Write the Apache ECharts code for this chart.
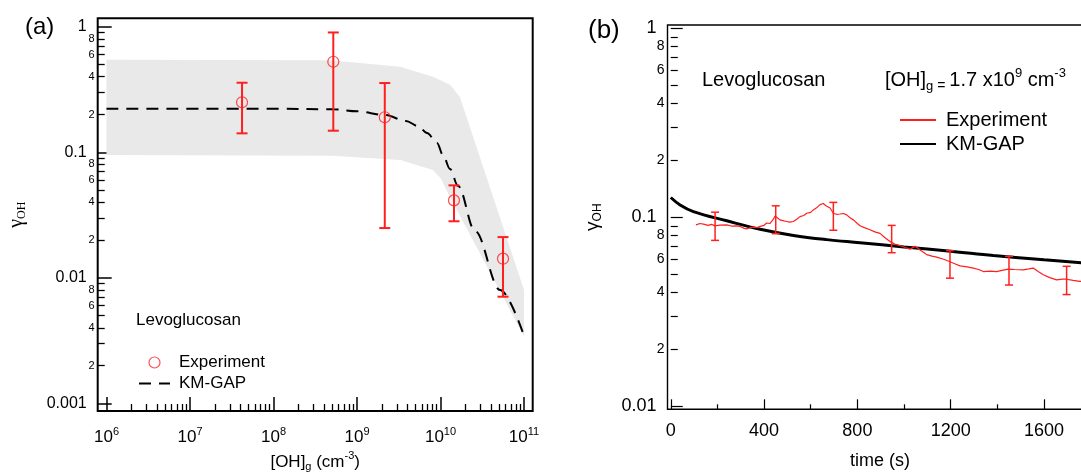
<!DOCTYPE html>
<html>
<head>
<meta charset="utf-8">
<script src="https://cdn.jsdelivr.net/npm/echarts@6/dist/echarts.min.js"></script>
<style>
	html, body { margin: 0; padding: 0; background: #fff; }
	#chart { width: 1081px; height: 473px; }
</style>
</head>
<body>
<div id="chart"></div>
<script>
const FONT = "'Liberation Sans', Arial, sans-serif";
const SERIF = "'Liberation Serif', 'DejaVu Serif', serif";
const RED = "#ff1f1f";
const BAND = "#e9e9e9";
const CLEAR = "rgba(0,0,0,0)";

// ---- panel (a): gamma vs [OH]g ----
const ohDecades = [1e6, 1e7, 1e8, 1e9, 1e10, 1e11];
const gammaDecadesA = [0.001, 0.01, 0.1, 1];
const gammaLabelsA = ["0.001", "0.01", "0.1", "1"];

const expOH = [4.2e7, 5.2e8, 2.15e9, 1.45e10, 5.6e10];
const expGamma = [0.25, 0.526, 0.19, 0.0414, 0.0142];
const expLow = [0.1415, 0.1485, 0.0249, 0.0282, 0.00707];
const expHigh = [0.358, 0.9, 0.356, 0.0545, 0.0211];

const kmOH = [1e6, 1e8, 5.16e8, 1e9, 2.16e9, 3.86e9, 5.38e9, 6.89e9, 9.08e9, 1.07e10, 1.3e10, 1.62e10, 2.59e10, 5.16e10, 1e11];
const kmGamma = [0.222, 0.222, 0.220, 0.212, 0.198, 0.1774, 0.1618, 0.1423, 0.1185, 0.0951, 0.0736, 0.0538, 0.0236, 0.0080, 0.00344];

const bandUpperOH = [1e6, 4.75e8, 3.3e9, 8.1e9, 1.3e10, 1.7e10, 1e11];
const bandUpperGamma = [0.545, 0.54, 0.48, 0.40, 0.345, 0.277, 0.008];
const bandLowerOH = [1e6, 5e8, 3.3e9, 8.1e9, 1e10, 1.36e10, 1e11];
const bandLowerGamma = [0.095, 0.094, 0.0867, 0.0722, 0.0625, 0.0414, 0.0034];

// ---- panel (b): gamma vs time ----
const timeMajor = [0, 400, 800, 1200, 1600];
const timeMinor = [200, 600, 1000, 1400, 1800];
const gammaDecadesB = [0.01, 0.1, 1];
const gammaLabelsB = ["0.01", "0.1", "1"];

const expTime = [108, 125, 140, 160, 175, 190, 210, 240, 260, 283, 300, 315, 326, 340, 354, 370, 383, 400, 411, 425,
	440, 447, 458, 468, 485, 497, 510, 526, 540, 554, 570, 583, 600, 611, 625, 640, 654, 665, 683, 697,
	710, 726, 740, 754, 770, 783, 800, 811, 830, 854, 875, 897, 920, 940, 960, 983, 1005, 1026, 1047, 1060,
	1069, 1085, 1097, 1120, 1140, 1170, 1197, 1220, 1240, 1270, 1297, 1320, 1340, 1370, 1397, 1420, 1447, 1475, 1511, 1535,
	1554, 1575, 1597, 1625, 1654, 1680, 1697, 1725, 1754, 1780, 1808];
const expGammaB = [0.0910, 0.0925, 0.0918, 0.0905, 0.0915, 0.0899, 0.0908, 0.0910, 0.0897, 0.0899, 0.0890, 0.0872, 0.0866, 0.0878, 0.0885, 0.0880, 0.0893, 0.0905, 0.0931, 0.0925,
	0.0975, 0.1014, 0.0990, 0.0967, 0.0955, 0.0948, 0.0940, 0.0948, 0.0975, 0.1006, 0.1020, 0.1048, 0.1060, 0.1092, 0.1120, 0.1164, 0.1180, 0.1150, 0.1117, 0.1048,
	0.1035, 0.1039, 0.1045, 0.1028, 0.0990, 0.0967, 0.0925, 0.0900, 0.0880, 0.0857, 0.0835, 0.0820, 0.0775, 0.0742, 0.0720, 0.0707, 0.0690, 0.0677, 0.0700, 0.0685,
	0.0670, 0.0650, 0.0633, 0.0622, 0.0614, 0.0598, 0.0580, 0.0565, 0.0552, 0.0545, 0.0537, 0.0528, 0.0515, 0.0518, 0.0515, 0.0522, 0.0530, 0.0528, 0.0526, 0.0532,
	0.0537, 0.0515, 0.0495, 0.0478, 0.0465, 0.0470, 0.0469, 0.0462, 0.0457, 0.0455, 0.0452];

const kmTime = [0, 40, 97, 240, 383, 526, 669, 811, 1000, 1200, 1383, 1600, 1808];
const kmGammaB = [0.127, 0.116, 0.107, 0.0956, 0.0862, 0.0800, 0.0760, 0.0732, 0.0695, 0.0660, 0.0626, 0.0594, 0.0568];

const ebTime = [190, 450, 697, 947, 1197, 1450, 1697];
const ebLow = [0.0753, 0.0817, 0.0852, 0.0648, 0.0475, 0.0437, 0.0389];
const ebHigh = [0.1062, 0.1148, 0.1197, 0.0904, 0.0665, 0.0620, 0.0549];

// 2..9 inside each decade, and the labelled 2,4,6,8
function minorTicks(decades, steps) {
	const out = [];
	decades.slice(0, -1).forEach(d => steps.forEach(m => out.push(m * d)));
	return out;
}
const allSteps = [2, 3, 4, 5, 6, 7, 8, 9];
const evenSteps = [2, 4, 6, 8];

function mantissa(v) {
	const e = Math.floor(Math.log10(v) + 1e-9);
	return String(Math.round(v / Math.pow(10, e)));
}
function decadeLabel(decades, labels) {
	return v => {
		let best = 0;
		decades.forEach((d, i) => {
			if (Math.abs(Math.log10(d) - Math.log10(v)) < Math.abs(Math.log10(decades[best]) - Math.log10(v))) best = i;
		});
		return labels[best];
	};
}

const zip = (a, b) => a.map((v, i) => [v, b[i]]);
const zip3 = (a, b, c) => a.map((v, i) => [v, b[i], c[i]]);

function errorBars(capHalf, width) {
	return (params, api) => {
		const x = api.value(0);
		const lo = api.coord([x, api.value(1)]);
		const hi = api.coord([x, api.value(2)]);
		const style = { stroke: RED, lineWidth: width };
		return {
			type: "group",
			children: [
				{ type: "line", shape: { x1: lo[0], y1: lo[1], x2: hi[0], y2: hi[1] }, style },
				{ type: "line", shape: { x1: lo[0] - capHalf, y1: lo[1], x2: lo[0] + capHalf, y2: lo[1] }, style },
				{ type: "line", shape: { x1: hi[0] - capHalf, y1: hi[1], x2: hi[0] + capHalf, y2: hi[1] }, style }
			]
		};
	};
}

const tickStyle = w => ({ color: "#000", width: w });
const black = { color: "#000", fontFamily: FONT };
const noSymbol = { color: CLEAR, borderWidth: 0, opacity: 0 };

const chart = echarts.init(document.getElementById("chart"));

const option = {
	animation: false,
	backgroundColor: "#fff",
	grid: [
		{ left: 97.7, top: 18.3, width: 435, height: 392.7, show: true, borderColor: "#000", borderWidth: 2, backgroundColor: "transparent", outerBoundsMode: "none", containLabel: false },
		{ left: 667.5, top: 25, width: 425, height: 384.3, show: true, borderColor: "#000", borderWidth: 1.4, backgroundColor: "transparent", outerBoundsMode: "none", containLabel: false }
	],
	xAxis: [
		{
			gridIndex: 0, type: "log", min: 7.85e5, max: 1.27e11, position: "bottom",
			axisLine: { show: false }, splitLine: { show: false },
			axisTick: { inside: true, length: 14, customValues: ohDecades, lineStyle: tickStyle(1.5) },
			axisLabel: {
				customValues: ohDecades, margin: 15,
				formatter: v => `{b|10}{e|${Math.round(Math.log10(v))}}`,
				rich: {
					b: { ...black, fontSize: 17, lineHeight: 20, verticalAlign: "bottom" },
					e: { ...black, fontSize: 11, lineHeight: 11, verticalAlign: "top" }
				}
			},
			name: "{m|[OH]}{s|g}{m| (cm}{e|-3}{m|)}", nameLocation: "middle", nameGap: 38,
			nameTextStyle: {
				rich: {
					m: { ...black, fontSize: 17, lineHeight: 22, verticalAlign: "middle" },
					s: { ...black, fontSize: 11, lineHeight: 11, verticalAlign: "bottom" },
					e: { ...black, fontSize: 11, lineHeight: 11, verticalAlign: "top" }
				}
			}
		},
		{
			gridIndex: 0, type: "log", min: 7.85e5, max: 1.27e11, position: "bottom",
			axisLine: { show: false }, splitLine: { show: false },
			axisTick: { inside: true, length: 7, customValues: minorTicks(ohDecades, allSteps), lineStyle: tickStyle(1.3) },
			axisLabel: { show: false }
		},
		{
			gridIndex: 1, type: "value", min: -14, max: 1808, position: "bottom",
			axisLine: { show: false }, splitLine: { show: false },
			axisTick: { inside: true, length: 10, customValues: timeMajor, lineStyle: tickStyle(1.2) },
			axisLabel: { customValues: timeMajor, margin: 13, ...black, fontSize: 18, formatter: v => String(v) },
			name: "time (s)", nameLocation: "middle", nameGap: 43,
			nameTextStyle: { ...black, fontSize: 18 }
		},
		{
			gridIndex: 1, type: "value", min: -14, max: 1808, position: "bottom",
			axisLine: { show: false }, splitLine: { show: false },
			axisTick: { inside: true, length: 5, customValues: timeMinor, lineStyle: tickStyle(1.2) },
			axisLabel: { show: false }
		}
	],
	yAxis: [
		{
			gridIndex: 0, type: "log", min: 8.69e-4, max: 1.167, position: "left",
			axisLine: { show: false }, splitLine: { show: false },
			axisTick: { inside: true, length: 14, customValues: gammaDecadesA, lineStyle: tickStyle(1.5) },
			axisLabel: { customValues: gammaDecadesA, margin: 11, ...black, fontSize: 16, formatter: decadeLabel(gammaDecadesA, gammaLabelsA) },
			name: "{g|γ}{s|OH}", nameLocation: "middle", nameGap: 70, nameRotate: 90,
			nameTextStyle: {
				rich: {
					g: { color: "#000", fontFamily: SERIF, fontSize: 20, lineHeight: 22, verticalAlign: "middle" },
					s: { color: "#000", fontFamily: SERIF, fontSize: 12, lineHeight: 12, verticalAlign: "bottom" }
				}
			}
		},
		{
			gridIndex: 0, type: "log", min: 8.69e-4, max: 1.167, position: "left",
			axisLine: { show: false }, splitLine: { show: false },
			axisTick: { inside: true, length: 7, customValues: minorTicks(gammaDecadesA, allSteps), lineStyle: tickStyle(1.3) },
			axisLabel: { customValues: minorTicks(gammaDecadesA, evenSteps), margin: 3, ...black, fontSize: 11, formatter: mantissa }
		},
		{
			gridIndex: 1, type: "log", min: 0.0096, max: 1.041, position: "left",
			axisLine: { show: false }, splitLine: { show: false },
			axisTick: { inside: true, length: 12, customValues: gammaDecadesB, lineStyle: tickStyle(1.2) },
			axisLabel: { customValues: gammaDecadesB, margin: 11, ...black, fontSize: 18, formatter: decadeLabel(gammaDecadesB, gammaLabelsB) },
			name: "{g|γ}{s|OH}", nameLocation: "middle", nameGap: 64, nameRotate: 90,
			nameTextStyle: {
				rich: {
					g: { ...black, fontSize: 19, lineHeight: 22, verticalAlign: "middle" },
					s: { ...black, fontSize: 12, lineHeight: 12, verticalAlign: "bottom" }
				}
			}
		},
		{
			gridIndex: 1, type: "log", min: 0.0096, max: 1.041, position: "left",
			axisLine: { show: false }, splitLine: { show: false },
			axisTick: { inside: true, length: 7, customValues: minorTicks(gammaDecadesB, allSteps), lineStyle: tickStyle(1.2) },
			axisLabel: { customValues: minorTicks(gammaDecadesB, evenSteps), margin: 3, ...black, fontSize: 14, formatter: mantissa }
		}
	],
	legend: [
		{
			data: [
				{ name: "Experiment", icon: "circle", itemStyle: { color: CLEAR, borderColor: RED, borderWidth: 1.2 } },
				{ name: "KM-GAP", itemStyle: noSymbol }
			],
			orient: "vertical", left: 133, top: 349, itemWidth: 31, itemHeight: 11, itemGap: 4,
			selectedMode: false, textStyle: { ...black, fontSize: 17, padding: [0, 0, 0, 4] }
		},
		{
			data: [
				{ name: "Experiment (b)", itemStyle: noSymbol },
				{ name: "KM-GAP (b)", itemStyle: noSymbol }
			],
			formatter: n => n.replace(" (b)", ""),
			orient: "vertical", left: 894, top: 105, itemWidth: 36, itemHeight: 14, itemGap: 4,
			selectedMode: false, textStyle: { ...black, fontSize: 20, padding: [0, 0, 0, 5] }
		}
	],
	graphic: [
		{ type: "text", x: 25, y: 27, style: { text: "(a)", font: `24px ${FONT}`, fill: "#000", verticalAlign: "middle" } },
		{ type: "text", x: 588, y: 31, style: { text: "(b)", font: `26px ${FONT}`, fill: "#000", verticalAlign: "middle" } },
		{ type: "text", x: 136, y: 320, style: { text: "Levoglucosan", font: `17px ${FONT}`, fill: "#000", verticalAlign: "middle" } },
		{ type: "text", x: 702, y: 80, style: { text: "Levoglucosan", font: `20px ${FONT}`, fill: "#000", verticalAlign: "middle" } },
		{
			type: "text", x: 885, y: 80,
			style: {
				text: "{m|[OH]}{s|g}{q| = }{m|1.7 x10}{e|9}{m| cm}{e|-3}",
				verticalAlign: "middle",
				rich: {
					m: { fontFamily: FONT, fontSize: 20, lineHeight: 26, verticalAlign: "middle", fill: "#000" },
					q: { fontFamily: FONT, fontSize: 14, lineHeight: 20, verticalAlign: "bottom", fill: "#000" },
					s: { fontFamily: FONT, fontSize: 13, lineHeight: 13, verticalAlign: "bottom", fill: "#000" },
					e: { fontFamily: FONT, fontSize: 13, lineHeight: 13, verticalAlign: "top", fill: "#000" }
				}
			}
		}
	],
	series: [
		{
			name: "band", type: "custom", xAxisIndex: 0, yAxisIndex: 0, silent: true, z: 1,
			data: [[bandUpperOH[0], bandUpperGamma[0]]],
			renderItem: (params, api) => {
				const top = zip(bandUpperOH, bandUpperGamma).map(p => api.coord(p));
				const bottom = zip(bandLowerOH, bandLowerGamma).reverse().map(p => api.coord(p));
				return { type: "polygon", shape: { points: top.concat(bottom) }, style: { fill: BAND } };
			}
		},
		{
			name: "KM-GAP", type: "line", xAxisIndex: 0, yAxisIndex: 0, z: 3,
			data: zip(kmOH, kmGamma), symbol: "none", smooth: 0.35, smoothMonotone: "x",
			color: "#000", lineStyle: { color: "#000", width: 2, type: [12, 8] }
		},
		{
			name: "errA", type: "custom", xAxisIndex: 0, yAxisIndex: 0, z: 4, silent: true,
			data: zip3(expOH, expLow, expHigh), encode: { x: 0, y: [1, 2] },
			renderItem: errorBars(5.5, 2)
		},
		{
			name: "Experiment", type: "scatter", xAxisIndex: 0, yAxisIndex: 0, z: 5,
			data: zip(expOH, expGamma), symbol: "circle", symbolSize: 11,
			color: RED, itemStyle: { color: CLEAR, borderColor: RED, borderWidth: 1.2 }
		},
		{
			name: "KM-GAP (b)", type: "line", xAxisIndex: 2, yAxisIndex: 2, z: 3,
			data: zip(kmTime, kmGammaB), symbol: "none", smooth: 0.4,
			color: "#000", lineStyle: { color: "#000", width: 3 }
		},
		{
			name: "Experiment (b)", type: "line", xAxisIndex: 2, yAxisIndex: 2, z: 4,
			data: zip(expTime, expGammaB), symbol: "none",
			color: RED, lineStyle: { color: RED, width: 1.2 }
		},
		{
			name: "errB", type: "custom", xAxisIndex: 2, yAxisIndex: 2, z: 5, silent: true,
			data: zip3(ebTime, ebLow, ebHigh), encode: { x: 0, y: [1, 2] },
			renderItem: errorBars(4, 1.5)
		}
	]
};

chart.setOption(option);
window.onresize = chart.resize;
</script>
</body>
</html>
